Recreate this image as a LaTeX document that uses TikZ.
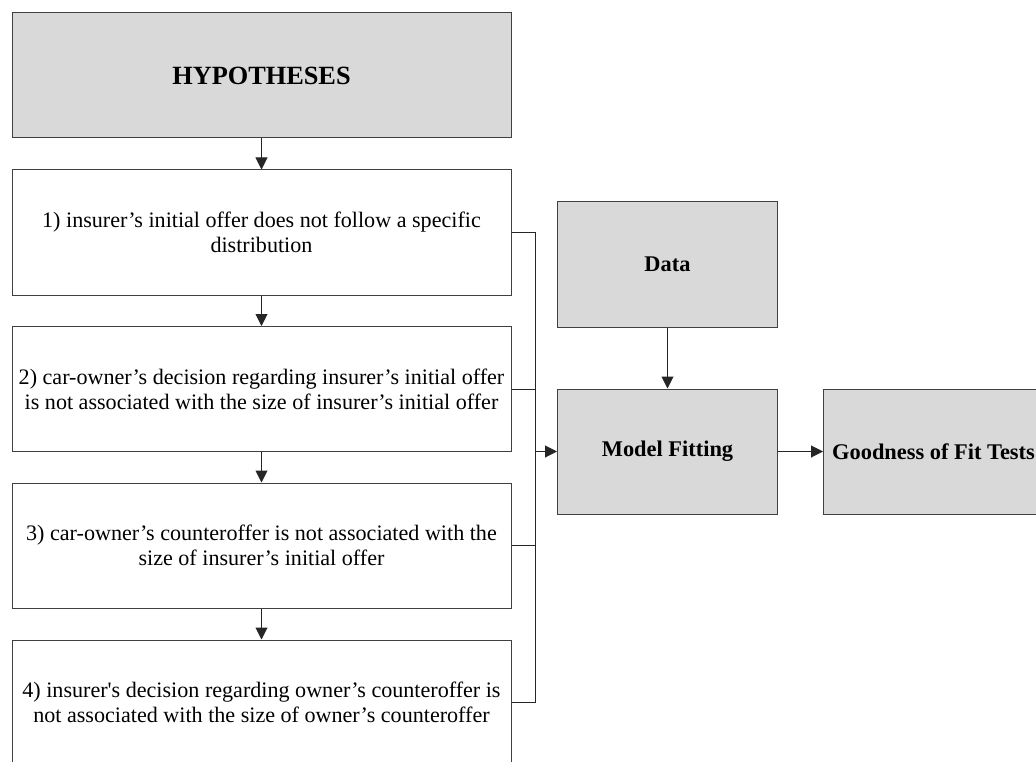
\documentclass[tikz,border=0pt]{standalone}
\usepackage{fontspec}
\setmainfont{Liberation Serif}
\usetikzlibrary{positioning, arrows.meta}
\definecolor{boxgrey}{RGB}{217,217,217}

\begin{document}
\begin{tikzpicture}[x=1pt, y=-1pt, >={Triangle[length=12pt,width=12pt]},
    every node/.style={font=\fontsize{22.1}{25}\selectfont, align=center},
    hypbox/.style={draw=black!75, line width=1pt, inner sep=0pt,
      minimum width=499pt, minimum height=125pt},
    greybox/.style={hypbox, fill=boxgrey, minimum width=220pt,
      font=\fontsize{22.4}{26}\selectfont\bfseries},
    link/.style={draw=black!85, line width=1pt}]
    % page size
    \useasboundingbox (0,0) rectangle (1036,762);
    \clip (0,0) rectangle (1036,762);

    % left column
    \node[hypbox, fill=boxgrey, font=\fontsize{26.3}{30}\selectfont\bfseries]
      (hyp) at (261.5,75.5) {HYPOTHESES};
    \node[hypbox] (h1) at (261.5,232.5)
      {1) insurer’s initial offer does not follow a specific\\distribution};
    \node[hypbox] (h2) at (261.5,389)
      {2) car-owner’s decision regarding insurer’s initial offer\\is not associated with the size of insurer’s initial offer};
    \node[hypbox] (h3) at (261.5,545.5)
      {3) car-owner’s counteroffer is not associated with the\\size of insurer’s initial offer};
    \node[hypbox] (h4) at (261.5,702.5)
      {4) insurer\textquotesingle s decision regarding owner’s counteroffer is\\not associated with the size of owner’s counteroffer};

    % right part
    \node[greybox] (data) at (667.5,264.5) {Data};
    \node[greybox] (fit) at (667.5,451.5) {Model Fitting};
    \node[greybox] (gof) at (933.5,451.5) {Goodness of Fit Tests};

    % arrows down the column
    \draw[link,->] (hyp) -- (h1);
    \draw[link,->] (h1) -- (h2);
    \draw[link,->] (h2) -- (h3);
    \draw[link,->] (h3) -- (h4);

    % collecting line
    \coordinate (bus) at (535,451.5);
    \foreach \h in {h1,h2,h3,h4}{
        \draw[link] (\h.east) -- (\h.east -| bus);
      }
    \draw[link] (h1.east -| bus) -- (h4.east -| bus);
    \draw[link,->] (bus) -- (fit.west);

    \draw[link,->] (data) -- (fit);
    \draw[link,->] (fit) -- (gof);
  \end{tikzpicture}
\end{document}
